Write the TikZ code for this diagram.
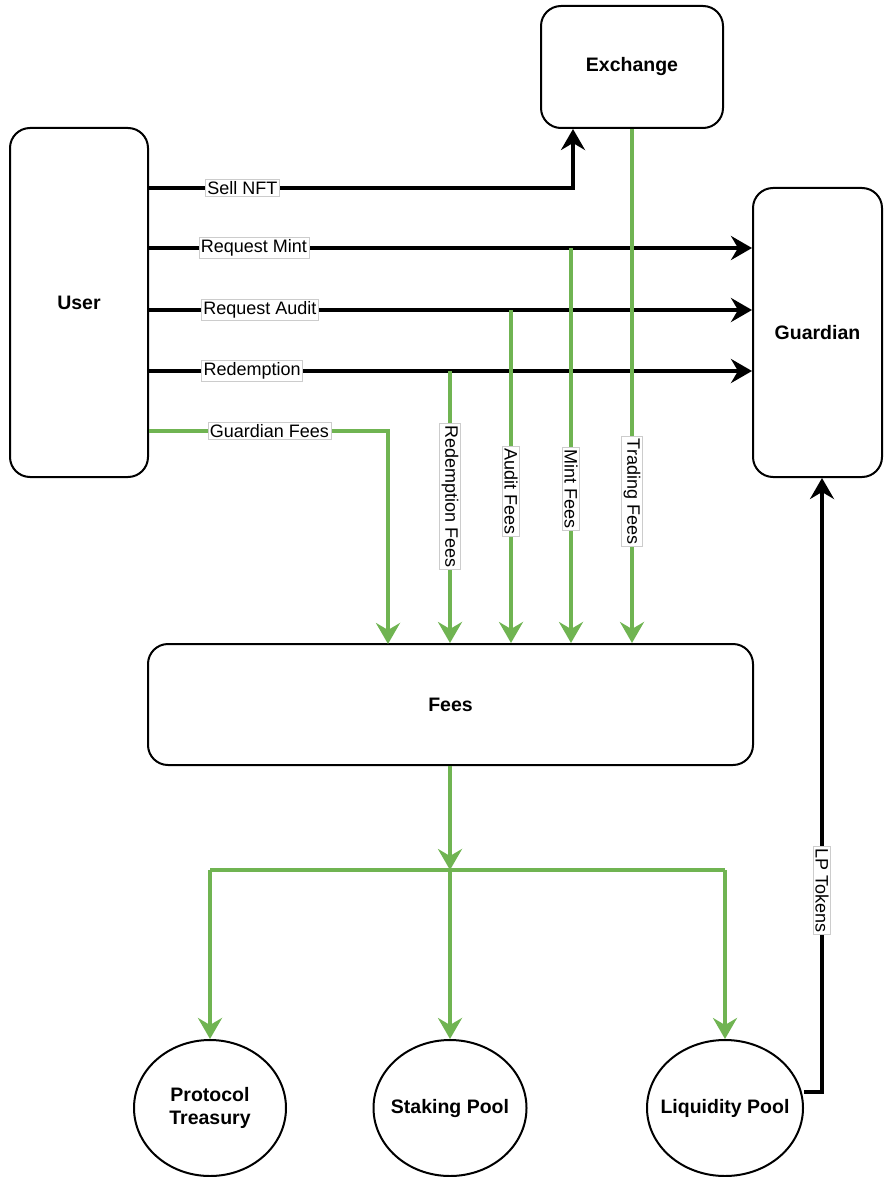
\documentclass[tikz,border=0pt]{standalone}
\usepackage{fontspec}
\setmainfont{Liberation Sans}
\usetikzlibrary{arrows.meta,shapes.geometric}
\definecolor{feegreen}{RGB}{112,180,82}
\tikzset{
    box/.style={draw, line width=2pt, rounded corners=20pt, font=\fontsize{19.5}{23}\selectfont\bfseries},
    pool/.style={draw, ellipse, line width=2pt, align=center, inner xsep=-25pt, inner ysep=0pt, font=\fontsize{19.5}{23}\selectfont\bfseries},
    flow/.style={line width=3.5pt, -{Stealth[length=21pt, width=24pt, inset=7pt]}},
    fee/.style={flow, draw=feegreen},
    lbl/.style={fill=white, draw=black!20, line width=0.5pt, inner sep=2pt, font=\fontsize{18}{21}\selectfont},
}
\begin{document}
\begin{tikzpicture}[x=1pt, y=-1pt]
    \useasboundingbox (0,0) rectangle (883,1177) ;
    \node [box, minimum width=138, minimum height=349] (user) at (79,302.5) {User} ;
    \node [box, minimum width=182, minimum height=122] (exchange) at (632,67) {Exchange} ;
    \node [box, minimum width=129, minimum height=289] (guardian) at (817.5,332.5) {Guardian} ;
    \node [box, minimum width=605, minimum height=121] (fees) at (450.5,704.5) {Fees} ;
    \node [pool, minimum width=152, minimum height=136] (treasury) at (210,1108) {Protocol\\Treasury} ;
    \node [pool, minimum width=153, minimum height=136] (staking) at (450,1108) {Staking Pool} ;
    \node [pool, minimum width=156, minimum height=136] (liquidity) at (725,1108) {Liquidity Pool} ;

    \coordinate (mintfee) at (571,248) ;
    \coordinate (auditfee) at (511,310) ;
    \coordinate (redeemfee) at (450,371) ;
    \coordinate (split) at (450,870) ;

    \draw [flow] (user.east |- 0,188) -| node [lbl, pos=0.11] {Sell NFT} ([xshift=-59pt]exchange.south) ;
    \draw [flow] (user.east |- mintfee) -- node [lbl, pos=0.174] {Request Mint} (guardian.west |- mintfee) ;
    \draw [flow] (user.east |- auditfee) -- node [lbl, pos=0.184] {Request Audit} (guardian.west |- auditfee) ;
    \draw [flow] (user.east |- redeemfee) -- node [lbl, pos=0.171] {Redemption} (guardian.west |- redeemfee) ;

    \draw [fee] (user.east |- 0,431) -| node [lbl, pos=0.252] {Guardian Fees} (388,644) ;
    \draw [fee] (redeemfee) -- node [lbl, rotate=-90, pos=0.46] {Redemption Fees} (redeemfee |- fees.north) ;
    \draw [fee] (auditfee) -- node [lbl, rotate=-90, pos=0.545] {Audit Fees} (auditfee |- fees.north) ;
    \draw [fee] (mintfee) -- node [lbl, rotate=-90, pos=0.61] {Mint Fees} (mintfee |- fees.north) ;
    \draw [fee] (exchange.south) -- node [lbl, rotate=-90, pos=0.705] {Trading Fees} (exchange.south |- fees.north) ;

    \draw [fee] (fees.south -| split) -- (split) ;
    \draw [draw=feegreen, line width=3.5pt] (treasury.north |- split) -- (liquidity.north |- split) ;
    \draw [fee] (treasury.north |- split) -- (treasury.north) ;
    \draw [fee] (split) -- (staking.north) ;
    \draw [fee] (liquidity.north |- split) -- (liquidity.north) ;

    \draw [flow] ([yshift=16pt]liquidity.east) -| node [lbl, rotate=-90, pos=0.664] {LP Tokens} ([xshift=4.5pt]guardian.south) ;
\end{tikzpicture}
\end{document}
